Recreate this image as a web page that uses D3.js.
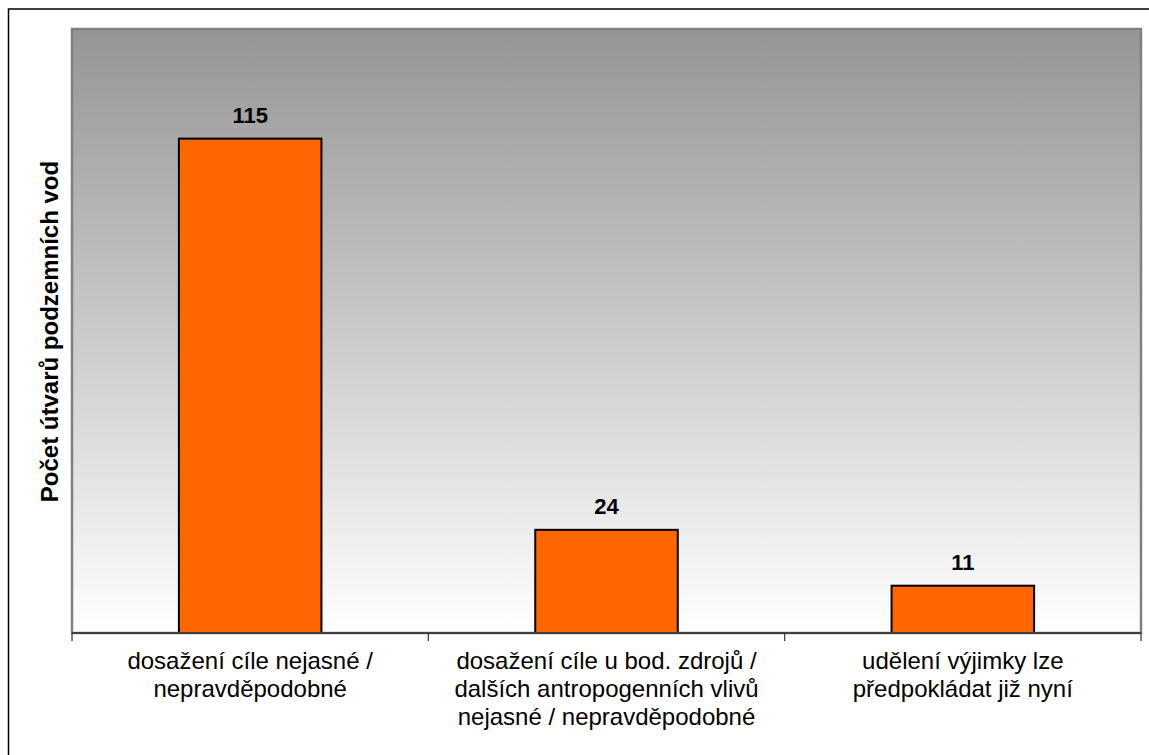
<!DOCTYPE html>
<html><head><meta charset="utf-8">
<script src="https://cdn.jsdelivr.net/npm/d3@7"></script>
<style>body{margin:0;background:#fff;} svg{display:block;font-family:"Liberation Sans",Arial,sans-serif;}</style>
</head><body>
<svg id="c" width="1149" height="755"></svg>
<script>
const categories = [
  ["dosažení cíle nejasné /", "nepravděpodobné"],
  ["dosažení cíle u bod. zdrojů /", "dalších antropogenních vlivů", "nejasné / nepravděpodobné"],
  ["udělení výjimky lze", "předpokládat již nyní"]
];
const values = [115, 24, 11];
const yTitle = "Počet útvarů podzemních vod";

const svg = d3.select("#c");
const m = {l:72, t:29, r:1141, b:633};
// outer border
svg.append("rect").attr("x",8.5).attr("y",9).attr("width",1160).attr("height",760)
  .attr("fill","#fff").attr("stroke","#000").attr("stroke-width",1.5);

const defs = svg.append("defs");
const g = defs.append("linearGradient").attr("id","bg").attr("x1",0).attr("y1",0).attr("x2",0).attr("y2",1);
g.append("stop").attr("offset","0%").attr("stop-color","#959595");
g.append("stop").attr("offset","100%").attr("stop-color","#ffffff");

const x = d3.scaleBand().domain(d3.range(values.length)).range([m.l, m.r]).paddingInner(0).paddingOuter(0);
const y = d3.scaleLinear().domain([0,140.5]).range([m.b, m.t]);

svg.append("rect").attr("x",m.l).attr("y",m.t).attr("width",m.r-m.l).attr("height",m.b-m.t)
  .attr("fill","url(#bg)").attr("stroke","#808080").attr("stroke-width",2.5);

const bw = x.bandwidth()*0.4;
svg.selectAll("rect.bar").data(values).join("rect").attr("class","bar")
  .attr("x",(d,i)=>x(i)+x.bandwidth()/2-bw/2).attr("y",d=>y(d))
  .attr("width",bw).attr("height",d=>y(0)-y(d))
  .attr("fill","#ff6600").attr("stroke","#000").attr("stroke-width",2);

svg.selectAll("text.val").data(values).join("text").attr("class","val")
  .attr("x",(d,i)=>x(i)+x.bandwidth()/2).attr("y",d=>y(d)-16)
  .attr("text-anchor","middle").attr("font-size",22).attr("font-weight","bold").text(d=>d);

// x axis
const xa = svg.append("g").attr("transform",`translate(0,${m.b})`);
xa.append("line").attr("x1",m.l).attr("x2",m.r).attr("stroke","#404040").attr("stroke-width",2);
const ticks = d3.range(values.length+1).map(i=> i<values.length ? x(i) : m.r);
xa.selectAll("line.t").data(ticks).join("line").attr("class","t")
  .attr("x1",d=>d).attr("x2",d=>d).attr("y1",0).attr("y2",8).attr("stroke","#333").attr("stroke-width",1.2);

categories.forEach((lines,i)=>{
  const t = svg.append("text").attr("text-anchor","middle").attr("font-size",24).attr("fill","#000");
  lines.forEach((ln,j)=>{
    t.append("tspan").attr("x",x(i)+x.bandwidth()/2).attr("y",669+j*28).text(ln);
  });
});

svg.append("text").attr("transform","translate(58,331.5) rotate(-90)")
  .attr("text-anchor","middle").attr("font-size",24).attr("font-weight","bold").text(yTitle);
</script>
</body></html>
